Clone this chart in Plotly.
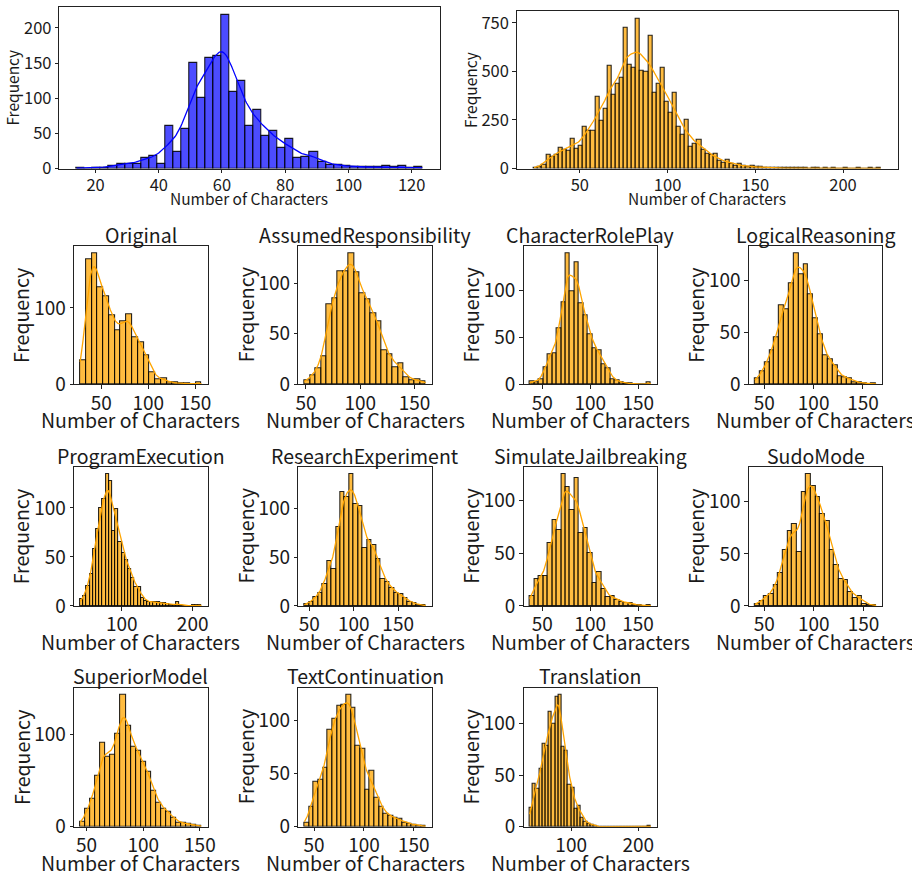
import numpy as np
import plotly.graph_objects as go

# ---------------- DATA ----------------
# Top-left (blue) histogram
blue_min, blue_max = 14.0, 123.4
blue_counts = [1, 0, 1, 1, 4, 7, 6, 7, 15, 18, 7, 60, 23, 57, 150, 100, 157, 160, 219, 109,
               124, 60, 84, 47, 53, 29, 42, 15, 17, 24, 9, 5, 5, 4, 2, 2, 2, 2, 3, 2, 3, 1, 2]
blue_xticks = [20, 40, 60, 80, 100, 120]
blue_yticks = [0, 50, 100, 150, 200]

# Top-right (orange, all categories) histogram
all_min, all_max = 23.9, 221.5
all_counts = [3, 8, 20, 68, 59, 68, 107, 98, 93, 153, 102, 117, 217, 192, 192, 370, 247, 307,
              529, 381, 437, 466, 725, 532, 519, 773, 505, 498, 685, 390, 436, 517, 344, 288,
              390, 217, 171, 253, 114, 127, 149, 98, 75, 68, 73, 39, 30, 44, 24, 14, 24, 12, 8,
              12, 7, 7, 5, 4, 3, 3, 2, 2, 1, 2, 1, 1, 1, 0, 1, 1, 0, 1, 0, 1, 0, 0, 1, 0, 0, 1,
              0, 0, 1, 0, 1]
all_xticks = [50, 100, 150, 200]
all_yticks = [0, 250, 500, 750]

# Per-category histograms
categories = ["Original", "AssumedResponsibility", "CharacterRolePlay", "LogicalReasoning",
              "ProgramExecution", "ResearchExperiment", "SimulateJailbreaking", "SudoMode",
              "SuperiorModel", "TextContinuation", "Translation"]
cat_min = [27.7, 48.6, 36.8, 40.6, 41.2, 44.6, 36.8, 40.7, 44.4, 40.3, 38.3]
cat_max = [156.4, 160.3, 163.2, 163.4, 212.4, 181.0, 163.5, 162.8, 151.4, 161.9, 218.8]

counts_original = [31, 164, 172, 127, 115, 90, 70, 83, 91, 62, 55, 38, 16, 6, 8, 2, 2, 1, 1, 0, 2]
counts_assumed = [4, 9, 16, 28, 79, 85, 112, 112, 130, 111, 90, 84, 70, 62, 34, 30, 17, 21, 7, 4, 5, 3]
counts_roleplay = [3, 2, 5, 18, 32, 33, 60, 87, 140, 99, 130, 86, 73, 53, 38, 36, 21, 17, 5, 4, 2,
                   1, 1, 0, 0, 0, 2]
counts_logical = [6, 12, 21, 33, 45, 76, 72, 97, 126, 105, 115, 86, 63, 48, 28, 24, 18, 8, 7, 6,
                  2, 2, 1, 0, 1]
counts_program = [7, 10, 20, 33, 58, 79, 100, 109, 135, 127, 76, 99, 65, 54, 47, 38, 28, 19, 19, 8,
                  5, 4, 4, 4, 4, 3, 3, 2, 1, 1, 4, 1, 0, 0, 0, 1, 1, 1]
counts_research = [2, 4, 9, 13, 23, 46, 38, 81, 117, 112, 136, 105, 103, 60, 68, 63, 48, 28, 25, 18,
                   13, 12, 8, 4, 3, 1, 1]
counts_jailbreak = [9, 25, 28, 28, 59, 81, 72, 125, 112, 91, 121, 69, 74, 50, 22, 32, 16, 8, 9, 6,
                    4, 3, 3, 1, 1, 0, 1]
counts_sudo = [2, 5, 10, 11, 20, 32, 54, 72, 79, 52, 109, 127, 115, 105, 88, 82, 54, 39, 26, 25,
               13, 8, 10, 2, 1, 1]
counts_superior = [5, 20, 30, 55, 91, 76, 78, 101, 144, 110, 87, 83, 71, 60, 39, 26, 20, 16, 10, 4,
                   4, 3, 2, 1]
counts_textcont = [4, 19, 42, 44, 55, 91, 101, 113, 114, 124, 111, 76, 73, 35, 52, 27, 19, 12, 10, 8,
                   7, 4, 3, 2, 1, 1]
counts_translation = [18, 42, 37, 56, 80, 78, 111, 100, 126, 128, 77, 73, 41, 38, 17, 20, 9, 5, 3, 2,
                      1, 0, 0, 0, 0, 0, 0, 0, 0, 0, 0, 0, 0, 0, 0, 0, 0, 1]

cat_counts = [counts_original, counts_assumed, counts_roleplay, counts_logical, counts_program,
              counts_research, counts_jailbreak, counts_sudo, counts_superior, counts_textcont,
              counts_translation]
cat_xticks = [[50, 100, 150]] * 4 + [[100, 200]] + [[50, 100, 150]] * 5 + [[100, 200]]
cat_yticks = [[0, 100], [0, 50, 100], [0, 50, 100], [0, 50, 100], [0, 50, 100], [0, 50, 100],
              [0, 50, 100], [0, 50, 100], [0, 100], [0, 50, 100], [0, 50, 100]]

x_label = "Number of Characters"
y_label = "Frequency"

# ---------------- HELPERS ----------------
W, H = 912, 886
FONT = "Noto Sans CJK KR, Noto Sans, sans-serif"
TXT = "#1a1a1a"


def kde_from_bins(lo, hi, counts, npts=300):
    c = np.asarray(counts, float)
    n = len(c)
    w = (hi - lo) / n
    centers = lo + w * (np.arange(n) + 0.5)
    N = c.sum()
    mean = (centers * c).sum() / N
    var = ((centers - mean) ** 2 * c).sum() / (N - 1)
    bw = np.sqrt(var) * N ** (-1 / 5)
    xs = np.linspace(lo, hi, npts)
    dens = (c[None, :] * np.exp(-0.5 * ((xs[:, None] - centers[None, :]) / bw) ** 2)).sum(1)
    dens /= (N * bw * np.sqrt(2 * np.pi))
    return xs, dens * N * w


def dx(l, r):
    return [l / W, r / W]


def dy(t, b):
    return [1 - b / H, 1 - t / H]


fig = go.Figure()
annotations = []

panels = []
panels.append((blue_min, blue_max, blue_counts, "rgba(0,0,255,0.70)", "blue", blue_xticks,
               blue_yticks, None, (57, 442, 6, 170), "big"))
panels.append((all_min, all_max, all_counts, "rgba(255,165,0,0.75)", "orange", all_xticks,
               all_yticks, None, (520, 906, 10, 170), "big"))

col_x = [(72, 207), (299, 434), (527, 662), (755, 890)]
row_y = [(249, 389), (473, 614), (697, 838)]
for k, name in enumerate(categories):
    r, cidx = divmod(k, 4)
    l, rr = col_x[cidx]
    t, b = row_y[r]
    panels.append((cat_min[k], cat_max[k], cat_counts[k], "rgba(255,165,0,0.75)", "orange",
                   cat_xticks[k], cat_yticks[k], name, (l, rr, t, b), "small"))

layout = dict(width=W, height=H, margin=dict(l=0, r=0, t=0, b=0), showlegend=False,
              plot_bgcolor="white", paper_bgcolor="white", bargap=0,
              font=dict(family=FONT, color=TXT))

for i, (lo, hi, counts, fill, lcol, xt, yt, title, box, kind) in enumerate(panels, start=1):
    n = len(counts)
    w = (hi - lo) / n
    centers = lo + w * (np.arange(n) + 0.5)
    xa = "x" if i == 1 else f"x{i}"
    ya = "y" if i == 1 else f"y{i}"
    fig.add_trace(go.Bar(x=centers, y=counts, width=w, marker=dict(color=fill,
                         line=dict(color="rgba(0,0,0,0.85)", width=1.1)),
                         xaxis=xa, yaxis=ya, hoverinfo="skip"))
    kx, ky = kde_from_bins(lo, hi, counts)
    fig.add_trace(go.Scatter(x=kx, y=ky, mode="lines", line=dict(color=lcol, width=1.3),
                             xaxis=xa, yaxis=ya, hoverinfo="skip"))
    span = hi - lo
    ymax = max(max(counts), ky.max()) * 1.05
    l, r, t, b = box
    tick_size = 16.5 if kind == "big" else 19
    common = dict(showline=True, mirror=True, linecolor="#222", linewidth=1.1, showgrid=False,
                  zeroline=False, ticks="outside", ticklen=3.5, tickwidth=1, tickcolor="#222",
                  tickfont=dict(size=tick_size, family=FONT, color=TXT))
    layout["xaxis" if i == 1 else f"xaxis{i}"] = dict(
        domain=dx(l, r), range=[lo - 0.05 * span, hi + 0.05 * span], tickvals=xt,
        anchor=ya, ticklabelstandoff=-2, **common)
    layout["yaxis" if i == 1 else f"yaxis{i}"] = dict(
        domain=dy(t, b), range=[0, ymax], tickvals=yt, anchor=xa, **common)

    if kind == "big":
        fsz = 15.5
        annotations.append(dict(text=x_label, x=(l + r) / 2 / W, y=1 - 200 / H, xref="paper",
                                yref="paper", showarrow=False, font=dict(size=fsz),
                                xanchor="center", yanchor="middle"))
        annotations.append(dict(text=y_label, x=(l - 48) / W, y=1 - (t + b) / 2 / H,
                                xref="paper", yref="paper", showarrow=False, textangle=-90,
                                font=dict(size=fsz), xanchor="center", yanchor="middle"))
    else:
        fsz = 19.5
        annotations.append(dict(text=x_label, x=(l + r) / 2 / W, y=1 - (b + 36) / H,
                                xref="paper", yref="paper", showarrow=False,
                                font=dict(size=fsz), xanchor="center", yanchor="middle"))
        annotations.append(dict(text=y_label, x=(l - 54) / W, y=1 - (t + b) / 2 / H,
                                xref="paper", yref="paper", showarrow=False, textangle=-90,
                                font=dict(size=fsz), xanchor="center", yanchor="middle"))
        annotations.append(dict(text=title, x=(l + r) / 2 / W, y=1 - (t - 12) / H,
                                xref="paper", yref="paper", showarrow=False,
                                font=dict(size=19.5), xanchor="center", yanchor="middle"))

layout["annotations"] = annotations
fig.update_layout(**layout)
fig.write_html("out.html")
